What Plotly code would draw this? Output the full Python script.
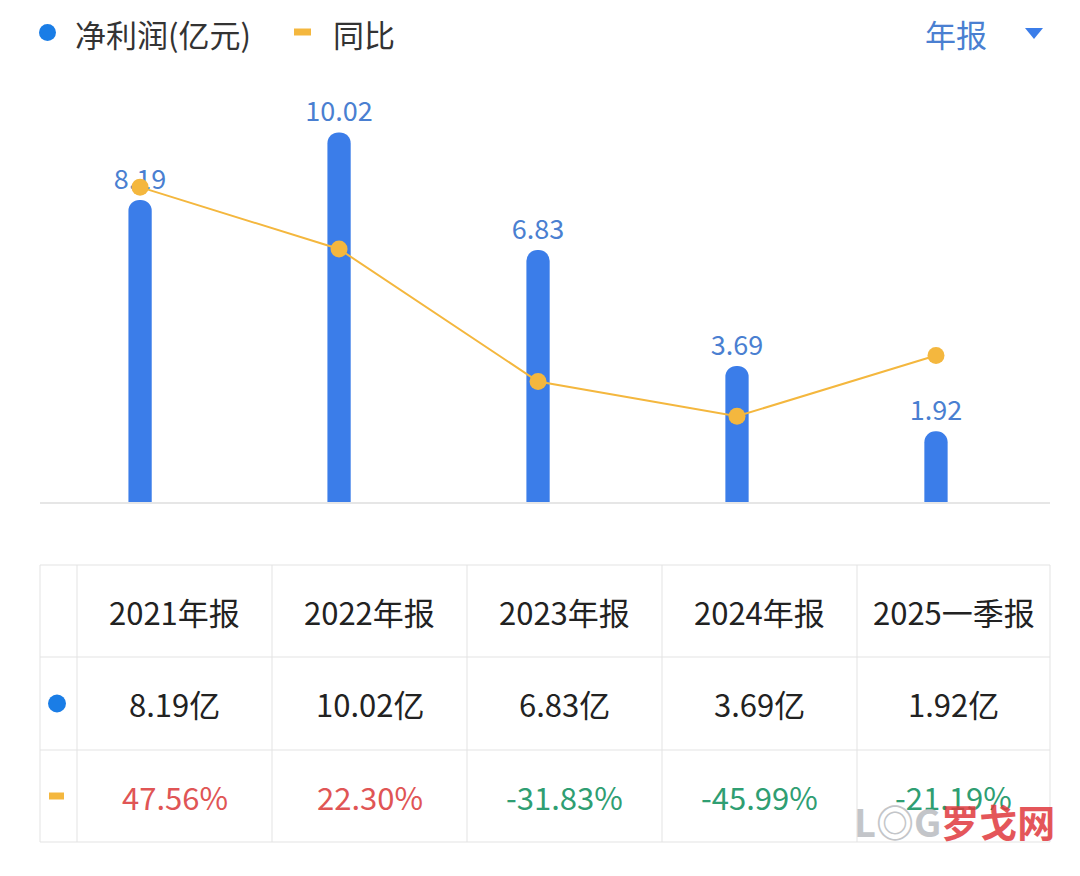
import plotly.graph_objects as go

# data
periods = ["2021年报", "2022年报", "2023年报", "2024年报", "2025一季报"]
net_profit = [8.19, 10.02, 6.83, 3.69, 1.92]          # 亿元
yoy_pct = [47.56, 22.30, -31.83, -45.99, -21.19]      # %

# page puts the plot 8px in from the top-left corner
OFF = 8
W, H = 1080 - OFF * 2, 876 - OFF * 2
BLUE = "#3b7de9"
ORANGE = "#f4b73e"
FONT = "Noto Sans CJK SC"
GRID = "#e3e3e3"


def px_x(x):
    return (x - OFF) / W


def px_y(y):
    return 1 - (y - OFF) / H


fig = go.Figure()

# net profit bars
fig.add_trace(go.Bar(
    x=periods, y=net_profit,
    width=0.117,
    marker=dict(color=BLUE, cornerradius=12, line=dict(width=0)),
    text=[f"{v:.2f}" for v in net_profit],
    textposition="outside",
    constraintext="none",
    textfont=dict(size=27, color="#4a7fd1", family=FONT),
    cliponaxis=False,
    hoverinfo="skip",
))

# YoY line on secondary axis
fig.add_trace(go.Scatter(
    x=periods, y=yoy_pct,
    yaxis="y2",
    mode="lines+markers",
    line=dict(color=ORANGE, width=2),
    marker=dict(color=ORANGE, size=17),
    hoverinfo="skip",
    cliponaxis=False,
))

fig.update_layout(
    width=W, height=H,
    margin=dict(l=0, r=0, t=0, b=0),
    paper_bgcolor="white",
    plot_bgcolor="white",
    showlegend=False,
    font=dict(family=FONT),
    xaxis=dict(
        domain=[px_x(40), px_x(1050)],
        range=[-0.503, 4.573],
        showticklabels=False, ticks="",
        showgrid=False, zeroline=False,
        showline=True, linecolor="#e6e6e6", linewidth=1.5,
    ),
    yaxis=dict(
        domain=[px_y(502), px_y(80)],
        range=[0, 11.44],
        visible=False, showgrid=False, zeroline=False,
    ),
    yaxis2=dict(
        overlaying="y",
        range=[-81.0, 91.3],
        visible=False, showgrid=False, zeroline=False,
    ),
)

# legend (custom, top left)
fig.add_shape(type="circle", xref="paper", yref="paper",
              x0=px_x(39), x1=px_x(56), y0=px_y(41), y1=px_y(24),
              fillcolor="#1a7de6", line=dict(width=0))
fig.add_annotation(x=px_x(73), y=px_y(33), xref="paper", yref="paper",
                   text="净利润(亿元)", showarrow=False, xanchor="left", yanchor="middle",
                   font=dict(size=31, color="#333333", family=FONT))
fig.add_shape(type="line", xref="paper", yref="paper",
              x0=px_x(294), x1=px_x(311), y0=px_y(32), y1=px_y(32),
              line=dict(color=ORANGE, width=7))
fig.add_annotation(x=px_x(331), y=px_y(33), xref="paper", yref="paper",
                   text="同比", showarrow=False, xanchor="left", yanchor="middle",
                   font=dict(size=31, color="#333333", family=FONT))

# period selector (top right)
fig.add_annotation(x=px_x(923), y=px_y(33), xref="paper", yref="paper",
                   text="年报", showarrow=False, xanchor="left", yanchor="middle",
                   font=dict(size=31, color="#4a7fd1", family=FONT))
fig.add_shape(type="path", xref="paper", yref="paper",
              path=f"M {px_x(1025)} {px_y(28)} L {px_x(1043)} {px_y(28)} L {px_x(1034)} {px_y(39)} Z",
              fillcolor="#3b7de9", line=dict(width=0))

# table below the chart
col_edges = [40, 77, 272, 467, 662, 857, 1050]
row_edges = [565, 657, 750, 842]
for x in col_edges:
    fig.add_shape(type="line", xref="paper", yref="paper",
                  x0=px_x(x), x1=px_x(x), y0=px_y(row_edges[0]), y1=px_y(row_edges[-1]),
                  line=dict(color=GRID, width=1))
for y in row_edges:
    fig.add_shape(type="line", xref="paper", yref="paper",
                  x0=px_x(col_edges[0]), x1=px_x(col_edges[-1]), y0=px_y(y), y1=px_y(y),
                  line=dict(color=GRID, width=1))

row_mid = [(row_edges[i] + row_edges[i + 1]) / 2 for i in range(3)]
# row markers
fig.add_shape(type="circle", xref="paper", yref="paper",
              x0=px_x(48), x1=px_x(66), y0=px_y(row_mid[1] + 9), y1=px_y(row_mid[1] - 9),
              fillcolor="#1a7de6", line=dict(width=0))
fig.add_shape(type="line", xref="paper", yref="paper",
              x0=px_x(49), x1=px_x(64), y0=px_y(row_mid[2]), y1=px_y(row_mid[2]),
              line=dict(color=ORANGE, width=7))

for i, (p, v, g) in enumerate(zip(periods, net_profit, yoy_pct)):
    cx = px_x((col_edges[i + 1] + col_edges[i + 2]) / 2)
    pct_color = "#e05555" if g >= 0 else "#2f9e72"
    for text, y, color in [(p, row_mid[0], "#222222"),
                           (f"{v:.2f}亿", row_mid[1], "#222222"),
                           (f"{g:.2f}%", row_mid[2], pct_color)]:
        fig.add_annotation(x=cx, y=px_y(y), xref="paper", yref="paper",
                           text=text, showarrow=False, xanchor="center", yanchor="middle",
                           font=dict(size=31, color=color, family=FONT))

# watermark
fig.add_annotation(x=px_x(852), y=px_y(820), xref="paper", yref="paper",
                   text="<span style='color:#b9bcc0'><b>L◎G</b></span><span style='color:#e0393e'><b>罗戈网</b></span>",
                   showarrow=False, xanchor="left", yanchor="middle",
                   font=dict(size=38, family=FONT), opacity=0.85)

fig.write_html("out.html")
